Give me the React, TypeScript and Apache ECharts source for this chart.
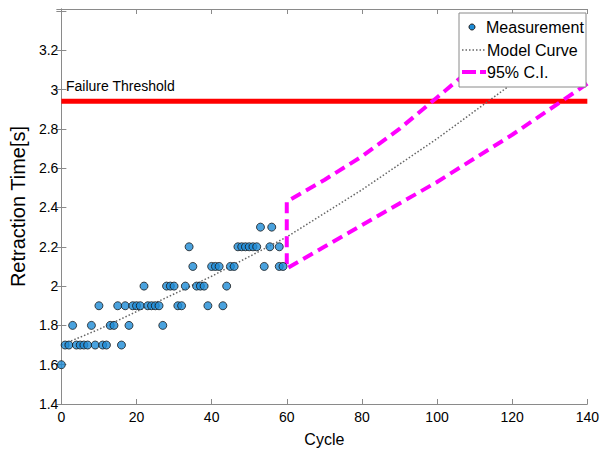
import React, { useEffect, useRef } from "react";
import * as echarts from "echarts";

const FONT = "'Liberation Sans', Arial, Helvetica, sans-serif";

// Measurements (cycle, retraction time)
const measurementCycles = [
  0,
  1, 2, 4, 5, 6, 7, 9, 11, 12, 16,
  3, 8, 13, 14, 18, 27,
  10, 15, 17, 19, 20, 21, 23, 24, 25, 26, 31, 32, 39, 43,
  22, 28, 29, 30, 33, 36, 37, 38, 44,
  35, 40, 41, 42, 45, 46, 54, 58, 59,
  34, 47, 48, 49, 50, 51, 52, 55.5, 58,
  53, 56,
];
const measurementValues = [
  1.6,
  1.7, 1.7, 1.7, 1.7, 1.7, 1.7, 1.7, 1.7, 1.7, 1.7,
  1.8, 1.8, 1.8, 1.8, 1.8, 1.8,
  1.9, 1.9, 1.9, 1.9, 1.9, 1.9, 1.9, 1.9, 1.9, 1.9, 1.9, 1.9, 1.9, 1.9,
  2.0, 2.0, 2.0, 2.0, 2.0, 2.0, 2.0, 2.0, 2.0,
  2.1, 2.1, 2.1, 2.1, 2.1, 2.1, 2.1, 2.1, 2.1,
  2.2, 2.2, 2.2, 2.2, 2.2, 2.2, 2.2, 2.2, 2.2,
  2.3, 2.3,
];

// Model curve
const modelCycles = [0, 10, 20, 30, 40, 50, 60, 70, 80, 90, 100, 110, 120, 130, 140];
const modelValues = [1.7, 1.78, 1.87, 1.96, 2.05, 2.15, 2.25, 2.37, 2.49, 2.62, 2.75, 2.89, 3.03, 3.18, 3.34];

// 95% confidence interval
const ciLowerCycles = [60, 70, 80, 90, 100, 110, 120, 130, 140];
const ciLowerValues = [2.09, 2.2, 2.31, 2.42, 2.53, 2.65, 2.77, 2.9, 3.03];
const ciUpperCycles = [60, 70, 80, 90, 100, 110, 120];
const ciUpperValues = [2.43, 2.54, 2.66, 2.8, 2.96, 3.12, 3.29];

// Failure threshold
const thresholdCycles = [0, 140];
const thresholdValue = 2.94;

const xTicks = { min: 0, max: 140, interval: 20 };
const yTicks = { min: 1.4, max: 3.41, interval: 0.2 };
const yLabelMax = 3.2;

export default function App() {
  const ref = useRef<HTMLDivElement>(null);

  useEffect(() => {
    if (!ref.current) return;
    const chart = echarts.init(ref.current, null, { renderer: "svg" });

    const measurementData = measurementCycles.map((c, i) => [c, measurementValues[i]]);
    const modelData = modelCycles.map((c, i) => [c, modelValues[i]]);
    const ciData: number[][] = [];
    for (let i = ciLowerCycles.length - 1; i >= 0; i--) ciData.push([ciLowerCycles[i], ciLowerValues[i]]);
    for (let i = 0; i < ciUpperCycles.length; i++) ciData.push([ciUpperCycles[i], ciUpperValues[i]]);
    const thresholdData = thresholdCycles.map((c) => [c, thresholdValue]);

    const axisLineStyle = { color: "#8a8a8a", width: 1 };
    const labelStyle = { color: "#000", fontSize: 14, fontFamily: FONT };

    const yFormatter = (v: number) => {
      const k = v / 0.2;
      if (Math.abs(k - Math.round(k)) > 1e-6) return "";
      if (v > yLabelMax + 1e-6) return "";
      return String(Math.round(v * 10) / 10);
    };

    const legendText = (text: string, x: number, y: number) => ({
      type: "text",
      z: 51,
      x,
      y,
      style: { text, fill: "#000", fontSize: 16, fontFamily: FONT, verticalAlign: "middle" },
    });

    chart.setOption({
      animation: false,
      backgroundColor: "#fff",
      grid: { left: 54, right: 12, top: 9, bottom: 47, containLabel: false },
      xAxis: [
        {
          type: "value",
          ...xTicks,
          position: "bottom",
          name: "Cycle",
          nameLocation: "middle",
          nameGap: 27,
          nameTextStyle: { color: "#000", fontSize: 16, fontFamily: FONT },
          axisLine: { show: true, lineStyle: axisLineStyle },
          axisTick: { show: true, inside: true, length: 5, lineStyle: axisLineStyle },
          axisLabel: { ...labelStyle, margin: 6 },
          splitLine: { show: false },
        },
        {
          type: "value",
          ...xTicks,
          position: "top",
          axisLine: { show: true, lineStyle: axisLineStyle },
          axisTick: { show: true, inside: true, length: 5, lineStyle: axisLineStyle },
          axisLabel: { show: false },
          splitLine: { show: false },
        },
      ],
      yAxis: [
        {
          type: "value",
          ...yTicks,
          position: "left",
          name: "Retraction Time[s]",
          nameLocation: "middle",
          nameGap: 29,
          nameTextStyle: { color: "#000", fontSize: 20, fontFamily: FONT },
          axisLine: { show: true, lineStyle: axisLineStyle },
          axisTick: { show: true, inside: true, length: 5, lineStyle: axisLineStyle },
          axisLabel: { ...labelStyle, margin: 3, formatter: yFormatter },
          splitLine: { show: false },
        },
        {
          type: "value",
          ...yTicks,
          position: "right",
          axisLine: { show: true, lineStyle: axisLineStyle },
          axisTick: { show: true, inside: true, length: 5, lineStyle: axisLineStyle },
          axisLabel: { show: false },
          splitLine: { show: false },
        },
      ],
      series: [
        {
          name: "Failure Threshold",
          type: "line",
          data: thresholdData,
          symbol: "none",
          lineStyle: { color: "#ff0000", width: 5 },
          z: 2,
        },
        {
          name: "Model Curve",
          type: "line",
          data: modelData,
          symbol: "none",
          lineStyle: { color: "#666", width: 1.5, type: [1.5, 2] },
          z: 3,
        },
        {
          name: "95% C.I.",
          type: "line",
          data: ciData,
          symbol: "none",
          lineStyle: { color: "#ff00ff", width: 4, type: [11, 6] },
          z: 3,
        },
        {
          name: "Measurement",
          type: "scatter",
          data: measurementData,
          symbol: "circle",
          symbolSize: 8,
          itemStyle: { color: "#1d8bd6", borderColor: "#1a1a1a", borderWidth: 1 },
          clip: false,
          z: 4,
        },
      ],
      graphic: [
        {
          type: "text",
          x: 66,
          y: 86,
          z: 10,
          style: {
            text: "Failure Threshold",
            fill: "#000",
            fontSize: 14,
            fontFamily: FONT,
            verticalAlign: "middle",
          },
        },
        {
          type: "group",
          x: 459,
          y: 13,
          z: 50,
          children: [
            {
              type: "rect",
              z: 50,
              shape: { x: 0, y: 0, width: 127, height: 74 },
              style: { fill: "#fff", stroke: "#8a8a8a", lineWidth: 1 },
            },
            {
              type: "circle",
              z: 51,
              shape: { cx: 13, cy: 14, r: 3 },
              style: { fill: "#1d8bd6", stroke: "#1a1a1a", lineWidth: 1 },
            },
            legendText("Measurement", 27, 14),
            {
              type: "line",
              z: 51,
              shape: { x1: 3, y1: 37, x2: 26, y2: 37 },
              style: { stroke: "#666", lineWidth: 1.5, lineDash: [1.5, 2] },
            },
            legendText("Model Curve", 28, 37),
            {
              type: "line",
              z: 51,
              shape: { x1: 3, y1: 59, x2: 27, y2: 59 },
              style: { stroke: "#ff00ff", lineWidth: 4, lineDash: [14, 4] },
            },
            legendText("95% C.I.", 28, 59),
          ],
        },
      ],
    });

    return () => chart.dispose();
  }, []);

  return (
    <div
      ref={ref}
      style={{ position: "fixed", left: 0, top: 0, width: 602, height: 452, background: "#fff" }}
    />
  );
}
